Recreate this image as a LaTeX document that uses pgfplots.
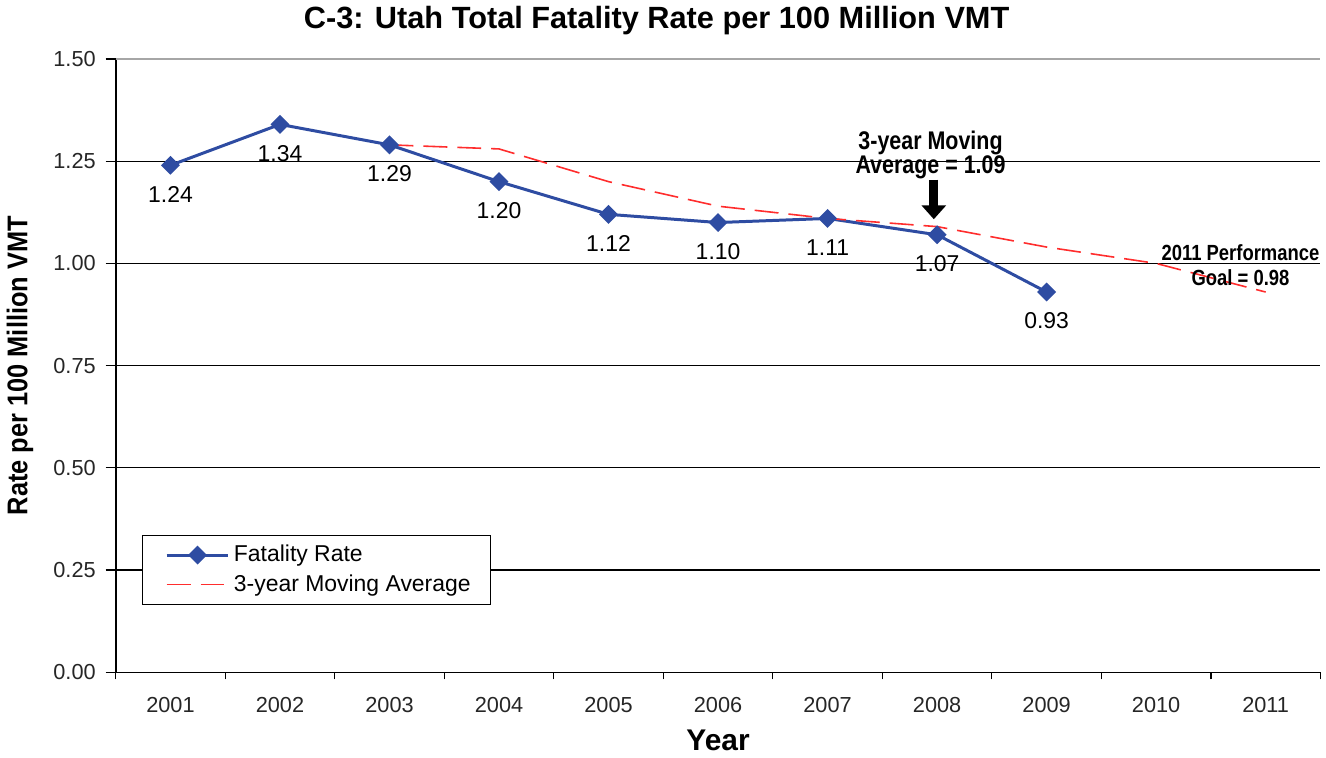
\documentclass[border=0pt]{standalone}
\usepackage{pgfplots}
\pgfplotsset{compat=1.18}
\usepackage{fontspec}
\setmainfont{Liberation Sans}
\newfontfamily\narrow[FakeStretch=0.84]{Liberation Sans}
\newfontfamily\narrowy[FakeStretch=0.89]{Liberation Sans}
\usetikzlibrary{arrows.meta}
\definecolor{fblue}{RGB}{46,76,162}
\definecolor{mred}{RGB}{255,45,45}
\begin{document}
\begin{tikzpicture}
\begin{axis}[
  scale only axis,
  width=604pt, height=307.5pt,
  xmin=0.5, xmax=11.5, ymin=0, ymax=1.5,
  axis x line*=bottom, axis y line*=left,
  axis line style={line width=0.8pt, black, -},
  xtick={1,...,11},
  xticklabels={2001,2002,2003,2004,2005,2006,2007,2008,2009,2010,2011},
  major x tick style={draw=none},
  minor xtick={0.5,1.5,...,11.5},
  minor x tick style={black, line width=0.6pt},
  minor tick length=3.5pt,
  ytick={0,0.25,...,1.25},
  extra y ticks={1.5},
  extra y tick style={grid style={gray!70, line width=1pt}},
  ymajorgrids,
  grid style={black, line width=0.6pt},
  major tick length=5pt,
  tick align=outside,
  y tick style={black, line width=0.6pt},
  /pgf/number format/assume math mode=true,
  yticklabel style={xshift=-1.5pt, /pgf/number format/.cd, fixed, fixed zerofill, precision=2},
  ticklabel style={font=\fontsize{10.9}{13}\selectfont, color=black!85},
  xticklabel style={yshift=-4pt},
  every axis title shift=0pt,
  title={C-3: Utah Total Fatality Rate per 100 Million VMT},
  title style={at={(0.449,1.062)}, anchor=center, font=\fontsize{15.4}{18}\selectfont\bfseries},
  xlabel={Year},
  xlabel style={at={(0.5,-0.111)}, anchor=center, font=\fontsize{15}{18}\selectfont\bfseries},
  ylabel={Rate per 100 Million VMT},
  ylabel style={at={(-0.0795,0.5)}, anchor=center, rotate=0, font=\fontsize{14.3}{17}\selectfont\narrowy\bfseries},
  legend style={at={(0.0215,0.2244)}, anchor=north west, draw=black, line width=0.6pt,
    font=\fontsize{11.5}{13.5}\selectfont, row sep=1pt, inner xsep=8pt, inner ysep=3pt,
    text depth=1pt},
  legend cell align=left,
  legend image code/.code={\path (0pt,0pt); \draw[mark repeat=2,mark phase=2,#1] plot coordinates {(3.5pt,0pt) (19pt,0pt) (34.5pt,0pt)};},
  clip=false,
]
\addplot[fblue, line width=1.5pt, mark=square*, mark size=2.6pt, mark options={solid, fill=fblue, rotate=45},
  nodes near coords, point meta=explicit symbolic,
  every node near coord/.style={anchor=center, yshift=-14.5pt, font=\fontsize{11.5}{13}\selectfont, text=black}]
  coordinates {(1,1.24)[1.24] (2,1.34)[1.34] (3,1.29)[1.29] (4,1.20)[1.20] (5,1.12)[1.12]
   (6,1.10)[1.10] (7,1.11)[1.11] (8,1.07)[1.07] (9,0.93)[0.93]};
\addlegendentry{Fatality Rate}
\addplot[mred, line width=0.8pt, dash pattern=on 12pt off 5pt, mark=none]
  coordinates {(3,1.29) (4,1.28) (5,1.20) (6,1.14) (7,1.11) (8,1.09) (9,1.04) (10,1.00) (11,0.93)};
\addlegendentry{3-year Moving Average}
\node[align=center, font=\fontsize{12.8}{12}\selectfont\narrow\bfseries] at (axis cs:7.94,1.266) {3-year Moving\\Average = 1.09};
\draw[line width=4.5pt, -{Triangle[width=12pt,length=7pt]}] (axis cs:7.97,1.205) -- (axis cs:7.97,1.108);
\node[align=center, font=\fontsize{11}{12.5}\selectfont\narrow\bfseries] at (axis cs:10.77,0.995) {2011 Performance\\Goal = 0.98};
\end{axis}
\end{tikzpicture}
\end{document}
